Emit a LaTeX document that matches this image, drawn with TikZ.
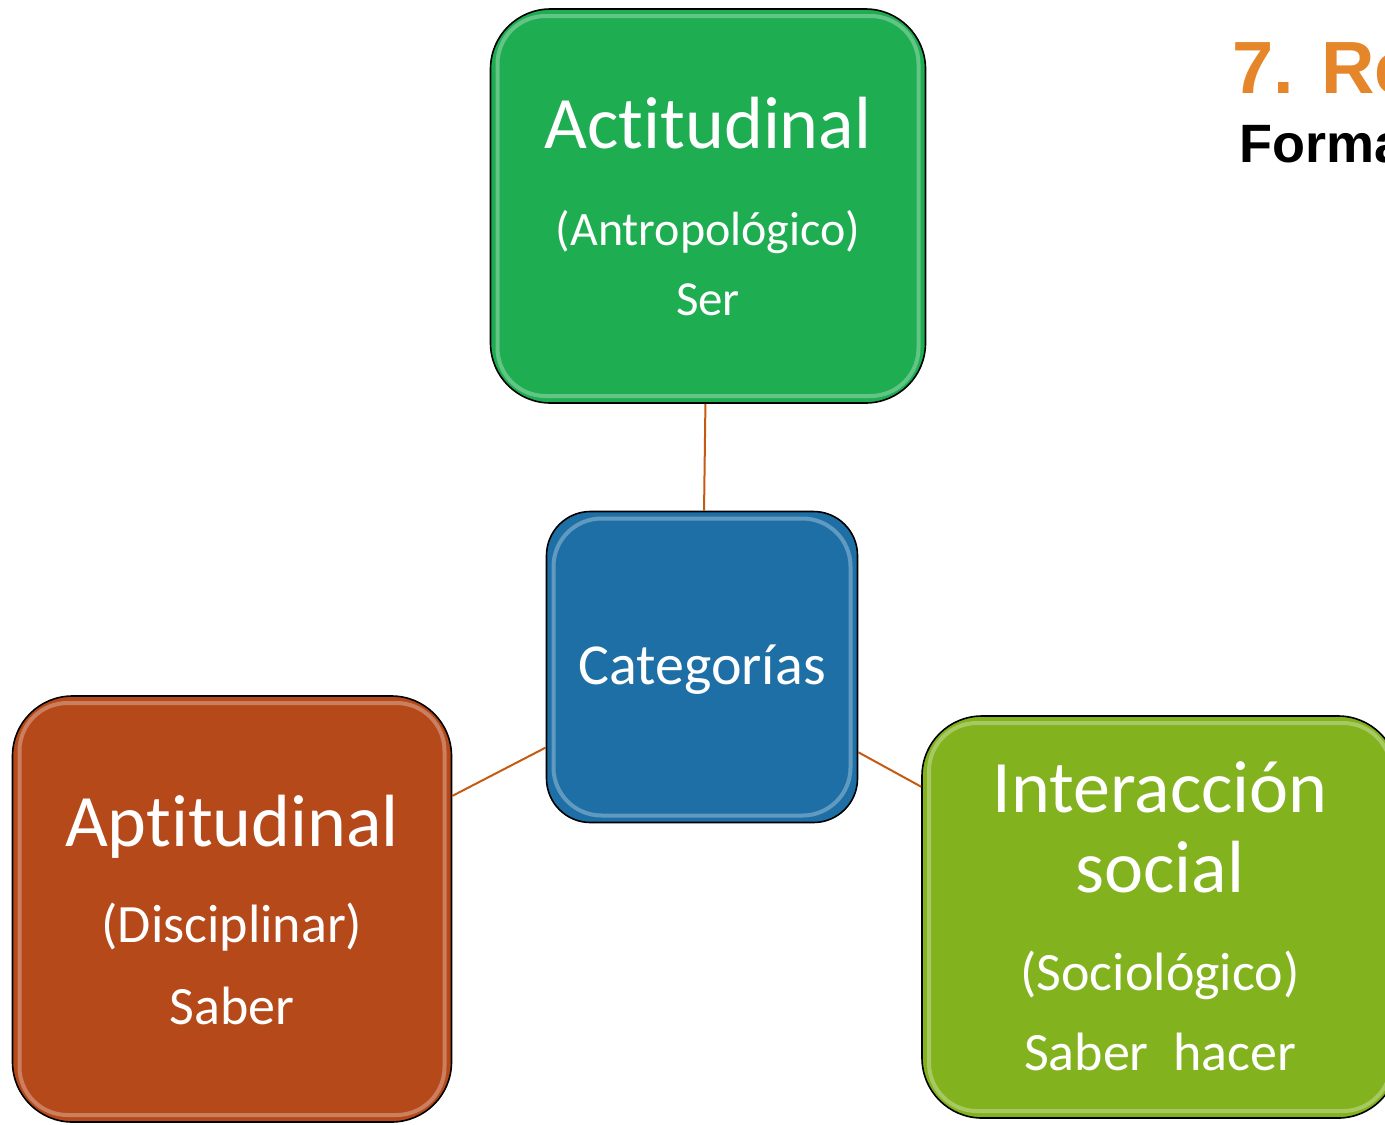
\documentclass[tikz,border=0pt]{standalone}
\usepackage{fontspec}
\setmainfont{Carlito}[Ligatures=NoCommon, RawFeature={-liga;-clig;-dlig}]
\newfontfamily\titlefont{Liberation Sans}
\usetikzlibrary{positioning}

\definecolor{verde}{RGB}{31,173,82}
\definecolor{azul}{RGB}{30,111,166}
\definecolor{ladrillo}{RGB}{181,73,26}
\definecolor{lima}{RGB}{130,178,30}
\definecolor{naranja}{RGB}{230,134,42}
\definecolor{conector}{RGB}{197,90,17}

\tikzset{
  caja/.style={draw=black, line width=0.8pt, rounded corners=30pt, inner sep=0pt,
    path picture={\draw[white, opacity=.3, line width=2pt, rounded corners=24pt]
      ([shift={(7,7)}]path picture bounding box.north west) rectangle
      ([shift={(-7,-7)}]path picture bounding box.south east);}},
  grande/.style={text=white, anchor=base, font=\fontsize{37}{40}\selectfont},
  chico/.style={text=white, anchor=base, font=\fontsize{27}{30}\selectfont},
  enlace/.style={draw=conector, line width=1pt}
}

\begin{document}
\begin{tikzpicture}[x=0.5pt, y=-0.5pt]
    \useasboundingbox (0,0) rectangle (1385,1124);
    \clip (0,0) rectangle (1385,1124);
    % cajas
    \node[caja, fill=verde, minimum width=217.5pt, minimum height=197pt] (act) at (708,206) {};
    \node[caja, fill=azul, rounded corners=22pt, minimum width=155.5pt, minimum height=155.5pt] (cat) at (702,667) {};
    \node[caja, fill=ladrillo, minimum width=219.5pt, minimum height=213pt] (apt) at (232,909) {};
    \node[caja, fill=lima, minimum width=238pt, minimum height=201pt] (int) at (1160,917) {};
    % enlaces
    \draw[enlace] (act) -- (cat);
    \draw[enlace] (cat) -- (apt);
    \draw[enlace] (cat) -- (int);
    % textos
    \node[grande] (act1) at (708,148) {Actitudinal};
    \node[chico, font=\fontsize{24}{28}\selectfont] (act2) at (708,245) {(Antropológico)};
    \node[chico, font=\fontsize{24.5}{28}\selectfont] (act3) at (708,315) {Ser};
    \node[text=white, anchor=base, font=\fontsize{29}{32}\selectfont] (cat1) at (702,684) {Categorías};
    \node[grande] (apt1) at (232,846) {Aptitudinal};
    \node[chico] (apt2) at (232,942) {(Disciplinar)};
    \node[chico] (apt3) at (232,1024) {Saber};
    \node[grande] (int1) at (1160,812) {Interacción};
    \node[grande] (int2) at (1160,892) {social};
    \node[chico] (int3) at (1160,990) {(Sociológico)};
    \node[chico] (int4) at (1160,1070) {Saber\ \ hacer};
    % titulo
    \node[anchor=base west, inner sep=0pt, text=naranja, font=\titlefont\bfseries\fontsize{37}{40}\selectfont] (tit) at (1232,93) {7. Re};
    \node[anchor=base west, inner sep=0pt, font=\titlefont\bfseries\fontsize{27}{30}\selectfont] (sub) at (1239,162) {Forma};
\end{tikzpicture}
\end{document}
